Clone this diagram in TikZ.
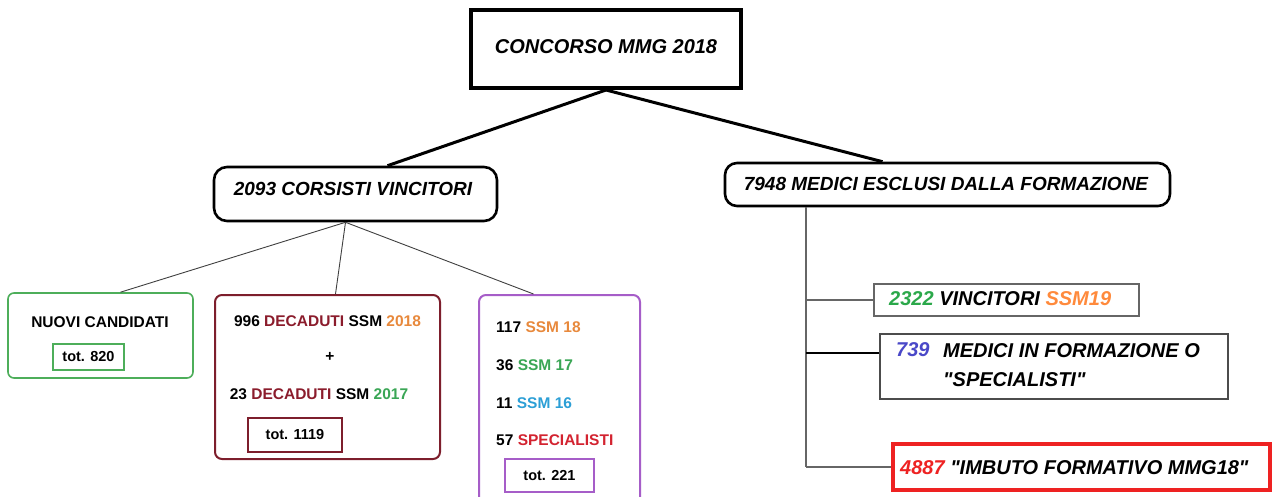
\documentclass[tikz,border=0pt]{standalone}
\usepackage{fontspec}
\setmainfont{Liberation Sans}
\newfontfamily\qfont{Liberation Sans}
\usetikzlibrary{calc}
\definecolor{cDred}{HTML}{8B1C2C}
\definecolor{cOr}{HTML}{E8893C}
\definecolor{cGr}{HTML}{3AA655}
\definecolor{cBl}{HTML}{2C9FD6}
\definecolor{cRd}{HTML}{D32330}
\definecolor{bGr}{HTML}{4DAE5A}
\definecolor{bRd}{HTML}{7D1E2C}
\definecolor{bPu}{HTML}{A65DC8}
\definecolor{rGr}{HTML}{2BA84A}
\definecolor{rOr}{HTML}{FF8A3C}
\definecolor{rBl}{HTML}{4A48C8}
\definecolor{rRd}{HTML}{EE2222}
\newcommand{\sq}{{\qfont"}}
\tikzset{
  box/.style={draw, inner sep=0pt},
  bigit/.style={font=\fontsize{19}{22}\selectfont\bfseries\itshape, inner sep=0pt},
  smallb/.style={font=\fontsize{15.5}{18}\selectfont\bfseries, inner sep=0pt},
  totb/.style={font=\fontsize{14.5}{17}\selectfont\bfseries, inner sep=0pt},
  rtxt/.style={font=\fontsize{20}{23}\selectfont\bfseries\itshape, inner sep=0pt, anchor=west},
  conn/.style={line width=3pt},
  thin/.style={line width=0.9pt, draw=black!75},
  gline/.style={line width=1.4pt, draw=black!60},
}
\begin{document}
\begin{tikzpicture}[x=1pt,y=-1pt]
\useasboundingbox[fill=white] (0,0) rectangle (1272,497);
% top
\node[box, line width=4pt, minimum width=270pt, minimum height=78pt] (top) at (606,49) {};
\node[bigit, font=\fontsize{20}{23}\selectfont\bfseries\itshape] (toptxt) at (606,47) {CONCORSO MMG 2018};
% level 2
\node[box, line width=2.6pt, rounded corners=13pt, minimum width=283pt, minimum height=54pt] (cor) at (355.5,194) {};
\node[bigit] (cortxt) at (353,189) {2093 CORSISTI VINCITORI};
\node[box, line width=2.6pt, rounded corners=12pt, minimum width=445pt, minimum height=43pt] (esc) at (947.5,184.5) {};
\node[bigit] (esctxt) at (946,184) {7948 MEDICI ESCLUSI DALLA FORMAZIONE};
\draw[conn] (top.south) -- ($(cor.north)+(32,0)$);
\draw[conn] (top.south) -- ($(esc.north)+(-65,0)$);
% left boxes
\node[box, draw=bGr, line width=1.6pt, rounded corners=6pt, minimum width=185pt, minimum height=85pt] (nuovi) at (100.5,335.5) {};
\node[smallb] (nuovitxt) at (100,322) {NUOVI CANDIDATI};
\node[box, draw=bGr, line width=1.2pt, minimum width=71pt, minimum height=26pt] (t820) at (88.5,357) {};
\node[totb] at (t820) {tot. 820};

\node[box, draw=bRd, line width=2pt, rounded corners=7pt, minimum width=225pt, minimum height=164pt] (dec) at (327.5,377) {};
\node[smallb] (dec1) at (327.5,321) {996 \textcolor{cDred}{DECADUTI} SSM \textcolor{cOr}{2018}};
\node[smallb] (plus) at (330,357) {+};
\node[smallb] (dec2) at (319,394) {23 \textcolor{cDred}{DECADUTI} SSM \textcolor{cGr}{2017}};
\node[box, draw=bRd, line width=1.2pt, minimum width=94pt, minimum height=34pt] (t1119) at (295,435) {};
\node[totb] at (t1119) {tot. 1119};

\node[box, draw=bPu, line width=2pt, rounded corners=7pt, minimum width=161pt, minimum height=215pt] (ssm) at (559.5,402.5) {};
\node[smallb, anchor=west] (s1) at (496,327) {117 \textcolor{cOr}{SSM 18}};
\node[smallb, anchor=west] (s2) at (496,365) {36 \textcolor{cGr}{SSM 17}};
\node[smallb, anchor=west] (s3) at (496,403) {11 \textcolor{cBl}{SSM 16}};
\node[smallb, anchor=west] (s4) at (496,440) {57 \textcolor{cRd}{SPECIALISTI}};
\node[box, draw=bPu, line width=1.2pt, minimum width=89pt, minimum height=33pt] (t221) at (549.5,475.5) {};
\node[totb] at (t221) {tot. 221};

\draw[thin] ($(cor.south)+(-10,0)$) -- ($(nuovi.north)+(20,0)$);
\draw[thin] ($(cor.south)+(-10,0)$) -- ($(dec.north)+(8,0)$);
\draw[thin] ($(cor.south)+(-10,0)$) -- ($(ssm.north)+(-26,0)$);

% right boxes
\node[box, draw=black!60, line width=1.3pt, minimum width=265pt, minimum height=32pt] (vin) at (1006.5,300) {};
\node[rtxt] (vintxt) at (889,299) {\textcolor{rGr}{2322} VINCITORI \textcolor{rOr}{SSM19}};
\node[box, draw=black!70, line width=1.3pt, minimum width=348pt, minimum height=65pt] (med) at (1054,366.5) {};
\node[rtxt] (medn) at (896,350) {\textcolor{rBl}{739}};
\node[rtxt] (med1) at (943,351) {MEDICI IN FORMAZIONE O};
\node[rtxt] (med2) at (943,380) {\sq SPECIALISTI\sq};
\node[box, draw=rRd, line width=3.5pt, minimum width=377pt, minimum height=46pt] (imb) at (1081.5,467) {};
\node[rtxt] (imbtxt) at (900,468) {\textcolor{rRd}{4887} \sq IMBUTO FORMATIVO MMG18\sq};

\coordinate (vtop) at ($(esc.south)+(-141.5,0)$);
\coordinate (b1) at (vtop |- vin.west);
\coordinate (m2) at ($(med.west)+(0,-13.5)$);
\coordinate (b2) at (vtop |- m2);
\coordinate (b3) at (vtop |- imb.west);
\draw[gline] (vtop) -- (b3);
\draw[gline] (b1) -- (vin.west);
\draw[gline, draw=black] (b2) -- (m2);
\draw[gline] (b3) -- (imb.west);
\end{tikzpicture}
\end{document}
